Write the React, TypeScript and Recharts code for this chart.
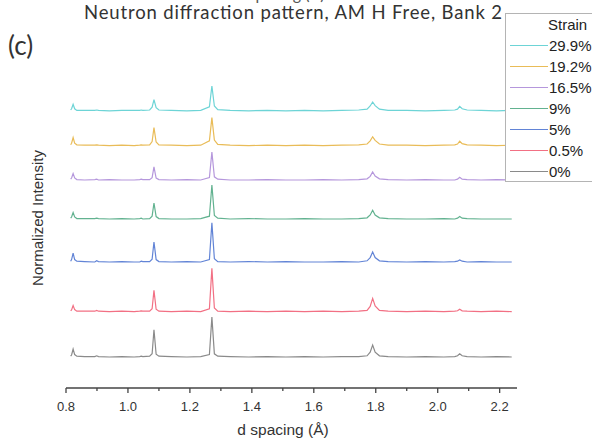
import { LineChart, Line, XAxis, YAxis } from "recharts";

// d spacing grid (Å) shared by every pattern
const D_SPACING = [
  0.815, 0.818, 0.823, 0.828, 0.835, 0.86, 0.893, 0.899, 0.905, 0.94,
  0.98, 1.02, 1.038, 1.043, 1.048, 1.07, 1.078, 1.084, 1.091, 1.1,
  1.14, 1.19, 1.235, 1.263, 1.271, 1.279, 1.29, 1.33, 1.39, 1.45,
  1.51, 1.57, 1.63, 1.69, 1.745, 1.772, 1.782, 1.79, 1.798, 1.812,
  1.84, 1.9, 1.96, 2.02, 2.055, 2.064, 2.071, 2.079, 2.095, 2.14,
  2.19, 2.239,
];

// normalized intensity of each pattern (before vertical stacking)
const I_0 = [
  0.02, 0.05, 0.2, 0.06, 0.02, 0.01, 0.01, 0.03, 0.01, 0.0,
  0.01, 0.0, 0.01, 0.02, 0.01, 0.02, 0.08, 0.68, 0.07, 0.02,
  0.01, 0.0, 0.01, 0.06, 1.0, 0.08, 0.02, 0.01, 0.0, 0.01,
  0.0, 0.01, 0.0, 0.01, 0.01, 0.03, 0.12, 0.3, 0.12, 0.03,
  0.01, 0.0, 0.01, 0.0, 0.01, 0.03, 0.08, 0.03, 0.01, 0.0,
  0.01, 0.0,
];
const I_05 = [
  0.02, 0.04, 0.15, 0.05, 0.01, 0.01, 0.01, 0.03, 0.01, 0.0,
  0.01, 0.0, 0.01, 0.02, 0.01, 0.01, 0.07, 0.53, 0.06, 0.01,
  0.0, 0.01, 0.0, 0.07, 1.08, 0.09, 0.01, 0.0, 0.01, 0.0,
  0.01, 0.0, 0.01, 0.0, 0.01, 0.03, 0.13, 0.33, 0.14, 0.03,
  0.01, 0.0, 0.01, 0.0, 0.01, 0.02, 0.06, 0.02, 0.01, 0.0,
  0.01, 0.0,
];
const I_5 = [
  0.02, 0.06, 0.22, 0.06, 0.02, 0.01, 0.0, 0.03, 0.01, 0.0,
  0.01, 0.0, 0.0, 0.02, 0.01, 0.01, 0.07, 0.5, 0.06, 0.01,
  0.0, 0.01, 0.0, 0.06, 0.98, 0.08, 0.01, 0.0, 0.01, 0.0,
  0.01, 0.0, 0.0, 0.01, 0.0, 0.03, 0.11, 0.25, 0.11, 0.03,
  0.01, 0.0, 0.01, 0.0, 0.01, 0.02, 0.05, 0.02, 0.0, 0.01,
  0.0, 0.0,
];
const I_9 = [
  0.02, 0.05, 0.16, 0.05, 0.01, 0.01, 0.01, 0.02, 0.01, 0.0,
  0.01, 0.0, 0.01, 0.02, 0.0, 0.01, 0.07, 0.4, 0.06, 0.01,
  0.0, 0.0, 0.01, 0.07, 0.85, 0.09, 0.02, 0.0, 0.01, 0.0,
  0.0, 0.01, 0.0, 0.0, 0.01, 0.03, 0.1, 0.22, 0.1, 0.03,
  0.01, 0.0, 0.0, 0.01, 0.0, 0.02, 0.06, 0.02, 0.01, 0.0,
  0.0, 0.0,
];
const I_165 = [
  0.02, 0.05, 0.16, 0.05, 0.01, 0.0, 0.01, 0.02, 0.0, 0.01,
  0.0, 0.0, 0.01, 0.02, 0.01, 0.01, 0.06, 0.33, 0.05, 0.01,
  0.0, 0.01, 0.0, 0.06, 0.7, 0.08, 0.02, 0.0, 0.0, 0.01,
  0.0, 0.0, 0.01, 0.0, 0.01, 0.03, 0.09, 0.2, 0.1, 0.03,
  0.01, 0.0, 0.01, 0.0, 0.0, 0.02, 0.07, 0.02, 0.01, 0.0,
  0.01, 0.0,
];
const I_192 = [
  0.02, 0.06, 0.2, 0.06, 0.02, 0.01, 0.01, 0.02, 0.01, 0.0,
  0.01, 0.0, 0.01, 0.02, 0.01, 0.02, 0.1, 0.45, 0.09, 0.02,
  0.01, 0.0, 0.01, 0.12, 0.7, 0.14, 0.03, 0.01, 0.0, 0.01,
  0.0, 0.01, 0.0, 0.01, 0.02, 0.04, 0.12, 0.22, 0.13, 0.04,
  0.01, 0.01, 0.0, 0.01, 0.02, 0.04, 0.11, 0.05, 0.02, 0.01,
  0.0, 0.01,
];
const I_299 = [
  0.02, 0.05, 0.16, 0.05, 0.01, 0.01, 0.01, 0.02, 0.01, 0.0,
  0.01, 0.01, 0.01, 0.02, 0.01, 0.02, 0.09, 0.28, 0.08, 0.02,
  0.01, 0.0, 0.01, 0.1, 0.62, 0.12, 0.03, 0.01, 0.0, 0.01,
  0.0, 0.01, 0.0, 0.01, 0.02, 0.04, 0.12, 0.22, 0.13, 0.04,
  0.01, 0.01, 0.0, 0.01, 0.02, 0.04, 0.11, 0.05, 0.02, 0.01,
  0.0, 0.01,
];

// series in stacking order, bottom first
const STRAINS = ["0%", "0.5%", "5%", "9%", "16.5%", "19.2%", "29.9%"];
const INTENSITIES = [I_0, I_05, I_5, I_9, I_165, I_192, I_299];
const OFFSETS = [0.775, 1.91, 3.15, 4.225, 5.2, 6.06, 6.93];
const COLORS = ["#8a8a8a", "#f27084", "#6284d6", "#62b290", "#b597dc", "#e9bc58", "#6dd4d6"];

const X_TICKS = [0.8, 0.9, 1.0, 1.1, 1.2, 1.3, 1.4, 1.5, 1.6, 1.7, 1.8, 1.9, 2.0, 2.1, 2.2];

const rows = D_SPACING.map((d, i) => {
  const row: Record<string, number> = { d };
  STRAINS.forEach((s, k) => {
    row[s] = OFFSETS[k] + INTENSITIES[k][i];
  });
  return row;
});

const SANS = "'Liberation Sans', Arial, sans-serif";
const TITLE_FONT = "Lato, 'Open Sans', sans-serif";

function XTick(props: any) {
  const { x, y, index, payload } = props;
  const major = index % 2 === 0;
  return (
    <g>
      <line x1={x} x2={x} y1={y} y2={y + (major ? 5 : 3)} stroke="#444" strokeWidth={1.3} />
      {major && (
        <text x={x} y={y + 23} textAnchor="middle" fontSize={13} fontFamily={SANS} fill="#333">
          {payload.value.toFixed(1)}
        </text>
      )}
    </g>
  );
}

// legend box runs off the right edge of the figure, as in the source
function StrainLegend() {
  const order = STRAINS.map((s, k) => ({ s, c: COLORS[k] })).reverse();
  return (
    <div
      style={{
        position: "absolute",
        left: 505,
        top: 13,
        border: "1px solid #b4b4b4",
        background: "#fff",
        width: 130,
        height: 169,
        fontFamily: SANS,
        fontSize: 15,
        color: "#222",
        lineHeight: "21px",
        boxSizing: "border-box",
        whiteSpace: "nowrap",
      }}
    >
      <div style={{ paddingLeft: 42, height: 21 }}>Strain</div>
      {order.map(({ s, c }) => (
        <div key={s} style={{ display: "flex", alignItems: "center", height: 21 }}>
          <span style={{ width: 38, marginLeft: 4, marginRight: 1, borderTop: `1px solid ${c}` }} />
          <span>{s}</span>
        </div>
      ))}
    </div>
  );
}

export default function App() {
  return (
    <div style={{ position: "absolute", left: 0, top: 0, width: 592, height: 443, overflow: "hidden", background: "#fff" }}>
      <LineChart width={592} height={443} data={rows} margin={{ top: 60, right: 75, bottom: 25, left: 66 }}>
        <text x={280} y={0} textAnchor="middle" fontSize={16} fontFamily={TITLE_FONT} fill="#555">
          d spacing (Å)
        </text>
        <text
          x={293}
          y={19}
          textAnchor="middle"
          fontSize={18.5}
          textLength={418}
          fontFamily={TITLE_FONT}
          fill="#333"
        >
          Neutron diffraction pattern, AM H Free, Bank 2
        </text>
        <text x={8} y={55} fontSize={26} fontFamily={TITLE_FONT} fill="#333">
          (c)
        </text>
        <text
          x={37}
          y={218}
          transform="rotate(-90 37 218)"
          textAnchor="middle"
          dominantBaseline="central"
          fontSize={15}
          fontFamily={SANS}
          fill="#333"
        >
          Normalized Intensity
        </text>
        <text x={283} y={435} textAnchor="middle" fontSize={15.5} fontFamily={SANS} fill="#333">
          d spacing (Å)
        </text>
        <XAxis
          type="number"
          dataKey="d"
          domain={[0.8, 2.256]}
          ticks={X_TICKS}
          interval={0}
          tick={<XTick />}
          tickLine={false}
          tickSize={0}
          tickMargin={0}
          height={30}
          allowDataOverflow
          axisLine={{ stroke: "#444", strokeWidth: 1.5 }}
        />
        <YAxis
          type="number"
          domain={[0, 8.2]}
          width={0}
          tick={false}
          tickLine={false}
          allowDataOverflow
          axisLine={{ stroke: "#444", strokeWidth: 1.5 }}
        />
        {STRAINS.map((s, k) => (
          <Line
            key={s}
            dataKey={s}
            type="linear"
            stroke={COLORS[k]}
            strokeWidth={1.2}
            dot={false}
            activeDot={false}
            isAnimationActive={false}
          />
        ))}
      </LineChart>
      <StrainLegend />
    </div>
  );
}
